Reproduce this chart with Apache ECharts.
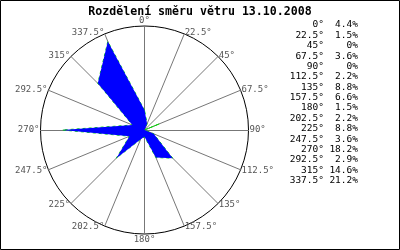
<!DOCTYPE html>
<html><head><meta charset="utf-8">
<script src="https://cdn.jsdelivr.net/npm/echarts@6/dist/echarts.min.js"></script>
<style>html,body{margin:0;padding:0;background:#fff}#c{width:400px;height:250px}</style>
</head><body><div id="c"></div>
<script>
var directions = ['0°','22.5°','45°','67.5°','90°','112.5°','135°','157.5°','180°','202.5°','225°','247.5°','270°','292.5°','315°','337.5°'];
var shares = [4.4,1.5,0,3.6,0,2.2,8.8,6.6,1.5,2.2,8.8,3.6,18.2,2.9,14.6,21.2];
var radialMax = 23;
var title = 'Rozdělení směru větru 13.10.2008';

// radar indicators run counter-clockwise, so reverse to get compass order
var order = [0];
for (var i = directions.length - 1; i > 0; i--) order.push(i);
var indicators = order.map(function (k) { return { name: directions[k], max: radialMax }; });
var values = order.map(function (k) { return shares[k]; });

var pctText = shares.map(function (v) { return v === 0 ? '0%' : v.toFixed(1) + '%'; }).join('\n');
var dirText = directions.join('\n');
var mono = 'DejaVu Sans Mono';

var chart = echarts.init(document.getElementById('c'), null, { renderer: 'canvas' });
chart.setOption({
  animation: false,
  backgroundColor: '#fff',
  title: {
    text: title, left: 'center', top: 1,
    textStyle: { fontFamily: mono, fontSize: 11.6, fontWeight: 'bold', color: '#000' }
  },
  radar: {
    center: [144.5, 130], radius: 104, startAngle: 90, splitNumber: 1, shape: 'circle',
    indicator: indicators,
    nameGap: 1,
    axisName: { color: '#555', fontFamily: mono, fontSize: 9 },
    splitLine: { lineStyle: { color: '#000', width: 1 } },
    splitArea: { show: false },
    axisLine: { lineStyle: { color: '#777', width: 1 } },
    axisTick: { show: false }, axisLabel: { show: false }
  },
  series: [{
    type: 'radar', symbol: 'none',
    lineStyle: { color: '#00dd00', width: 1, type: [3, 3] },
    areaStyle: { color: '#0000ff', opacity: 1 },
    data: [{ value: values }]
  }],
  graphic: [
    { type: 'rect', shape: { x: 0.5, y: 0.5, width: 399, height: 249 }, style: { fill: 'none', stroke: '#000', lineWidth: 1 }, silent: true },
    { type: 'text', x: 324, y: 19.8, style: { text: dirText, align: 'right', verticalAlign: 'top', fontFamily: mono, fontSize: 9.5, lineHeight: 10.38, fill: '#000' } },
    { type: 'text', x: 358, y: 19.8, style: { text: pctText, align: 'right', verticalAlign: 'top', fontFamily: mono, fontSize: 9.5, lineHeight: 10.38, fill: '#000' } }
  ]
});
</script></body></html>
